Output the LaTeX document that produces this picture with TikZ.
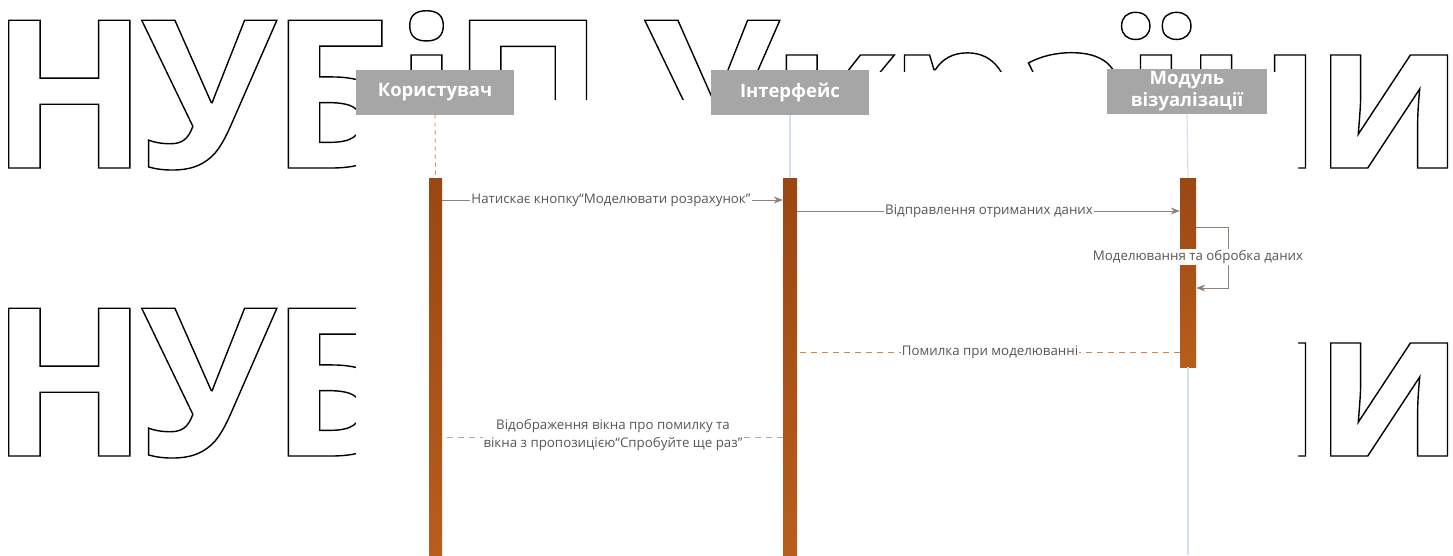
\documentclass[tikz,border=0pt]{standalone}
\usepackage{fontspec}
\setmainfont{Open Sans}
\newfontfamily\wmfont{Open Sans}
\usetikzlibrary{arrows.meta}
\definecolor{hdrgrey}{HTML}{A6A6A6}
\definecolor{acttop}{HTML}{9A4714}
\definecolor{actbot}{HTML}{B85D1C}
\definecolor{lblgrey}{HTML}{5A5550}
\definecolor{msgline}{HTML}{8E8276}
\definecolor{retorange}{HTML}{D0834A}
\definecolor{lifeblue}{HTML}{D3E2EE}
\newcommand{\wmk}{\kern-7pt }
\newcommand{\wmkk}{\kern-10pt }
\newcommand{\wmline}{\special{pdf:literal direct 1 Tr 1.4 w}Н\wmk У\wmk Б\wmk і\wmk П\wmk\ \wmk У\wmkk к\wmkk р\wmkk а\wmkk ї\kern-3pt н\wmk и\special{pdf:literal direct 0 Tr}}
\tikzset{
  head/.style={fill=hdrgrey, text=white, font=\bfseries\fontsize{18.5}{22}\selectfont,
    minimum width=158pt, minimum height=45pt, inner sep=0pt, align=center},
  actbar/.style={top color=acttop, bottom color=actbot, draw=none, inner sep=0pt},
  lbl/.style={fill=white, text=lblgrey, inner sep=1pt, align=center,
    font=\fontsize{13.3}{18}\selectfont},
  msg/.style={draw=msgline, line width=0.9pt, -{Stealth[length=9pt,width=7pt]}},
  ret/.style={draw=retorange, line width=1pt, dash pattern=on 6pt off 5pt},
  retgrey/.style={draw=msgline!70, line width=0.9pt, dash pattern=on 6pt off 5pt},
  life/.style={draw=lifeblue, line width=1.2pt},
  wm/.style={anchor=base west, inner sep=0pt, font=\wmfont\bfseries\fontsize{207}{207}\selectfont}
}
\begin{document}
\begin{tikzpicture}[x=1pt,y=-1pt]
\useasboundingbox (0,0) rectangle (1453,555);
% watermark
\node[wm] (wma) at (-10,168) {\wmline};
\node[wm] (wmb) at (-10,456) {\wmline};
% cover
\fill[white] (356,70) -- (514,70) -- (514,100) -- (711,100) -- (711,72) -- (1298,72)
  -- (1298,555) -- (356,555) -- cycle;
% headers
\node[head] (user) at (435,92) {Користувач};
\node[head] (ui) at (790,92) {Інтерфейс};
\node[head, minimum width=160pt] (viz) at (1187,91) {Модуль\\візуалізації};
% activation bars
\node[actbar, minimum width=13pt, minimum height=377pt] (a1) at (435.5,366.5) {};
\node[actbar, minimum width=14pt, minimum height=377pt] (a2) at (790,366.5) {};
\node[actbar, minimum width=16pt, minimum height=189pt] (a3) at (1188,272.5) {};
% lifelines
\draw[retorange, line width=0.8pt, dash pattern=on 4pt off 4pt] (user.south) -- (a1.north);
\draw[life] (ui.south) -- (a2.north);
\draw[life] (viz.south) -- (a3.north);
\draw[life] (a3.south) -- (1188,555);
% messages
\coordinate (m1) at (0,200);
\draw[msg] (a1.east |- m1) -- (a2.west |- m1);
\node[lbl] (l1) at (611,200) {Натискає кнопку“Моделювати розрахунок”};
\coordinate (m2) at (0,211);
\draw[msg] (a2.east |- m2) -- (a3.west |- m2);
\node[lbl] (l2) at (989,211) {Відправлення отриманих даних};
\coordinate (s1) at (0,227);
\coordinate (s2) at (0,288);
\coordinate (sx) at (1228,0);
\draw[msg] (a3.east |- s1) -- (sx |- s1) -- (sx |- s2) -- (a3.east |- s2);
\node[lbl] (l3) at (1198,257) {Моделювання та обробка даних};
\coordinate (m4) at (0,352);
\draw[ret] (a3.west |- m4) -- (a2.east |- m4);
\node[lbl] (l4) at (990,352) {Помилка при моделюванні};
\coordinate (m5) at (0,437);
\draw[retgrey] (a2.west |- m5) -- (a1.east |- m5);
\node[lbl] (l5) at (613,435) {Відображення вікна про помилку та\\вікна з пропозицією“Спробуйте ще раз”};
\end{tikzpicture}
\end{document}
